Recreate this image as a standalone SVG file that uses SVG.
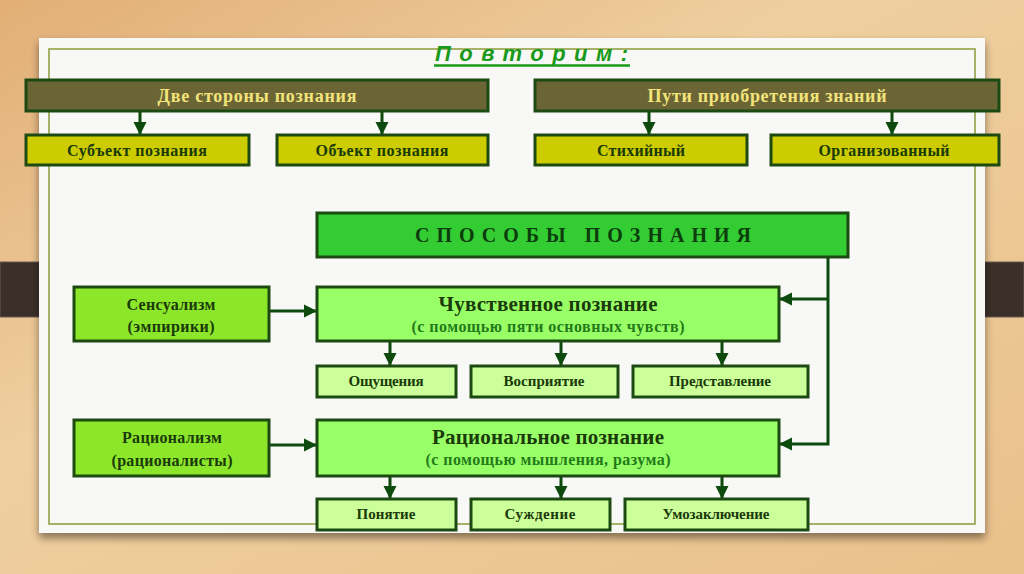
<svg xmlns="http://www.w3.org/2000/svg" width="1024" height="574" viewBox="0 0 1024 574">
<defs>
<linearGradient id="wood" x1="0" y1="0" x2="1" y2="1">
<stop offset="0" stop-color="#e2ae76"/>
<stop offset="0.4" stop-color="#efcf9f"/>
<stop offset="1" stop-color="#e9c08a"/>
</linearGradient>
<filter id="sh" x="-5%" y="-5%" width="110%" height="115%">
<feGaussianBlur in="SourceAlpha" stdDeviation="4"/>
<feOffset dx="0" dy="5"/>
<feComponentTransfer><feFuncA type="linear" slope="0.45"/></feComponentTransfer>
<feMerge><feMergeNode/><feMergeNode in="SourceGraphic"/></feMerge>
</filter>
<marker id="ah" viewBox="0 0 10 10" refX="10" refY="5" markerWidth="13" markerHeight="14" markerUnits="userSpaceOnUse" orient="auto">
<path d="M0,0 L10,5 L0,10 z" fill="#0d4a0d"/>
</marker>
<style>
.box{stroke:#1d4a12;stroke-width:3}
.dark{fill:#6b6536}
.yel{fill:#cccc00}
.main{fill:#33cc33}
.big{fill:#99ff66}
.lime{fill:#8ce62a}
.child{fill:#ccff99}
.t{font-family:"Liberation Serif",serif;font-weight:bold;text-anchor:middle}
.tl{fill:#f2e47a;font-size:18px}
.td{fill:#1a3a0a;font-size:16px}
.tc{fill:#1a3a0a;font-size:15px}
.tg{fill:#237a1a;font-size:16px}
.conn{stroke:#0d4a0d;stroke-width:3;fill:none}
</style>
</defs>
<rect width="1024" height="574" fill="url(#wood)"/>
<rect x="0" y="262" width="61" height="55" fill="#3b2f29" stroke="#6a5a50" stroke-width="1"/>
<rect x="963" y="262" width="61" height="55" fill="#3b2f29" stroke="#6a5a50" stroke-width="1"/>
<rect x="39" y="38" width="946" height="495" fill="#f8f8f6" filter="url(#sh)"/>
<rect x="49" y="49" width="926" height="475" fill="none" stroke="#8a9a3a" stroke-width="1.5"/>
<g id="title">
<text x="435" y="61" font-family="Liberation Sans, sans-serif" font-weight="bold" font-style="italic" font-size="22" fill="#1a9a1a" textLength="193" lengthAdjust="spacing">Повторим:</text>
<line x1="434" y1="65.5" x2="630" y2="65.5" stroke="#1a9a1a" stroke-width="2.5"/>
</g>
<g id="connectors">
<path class="conn" d="M140,111 V135" marker-end="url(#ah)"/>
<path class="conn" d="M382,111 V135" marker-end="url(#ah)"/>
<path class="conn" d="M649,111 V135" marker-end="url(#ah)"/>
<path class="conn" d="M892,111 V135" marker-end="url(#ah)"/>
<path class="conn" d="M828,257 V444 H779" marker-end="url(#ah)"/>
<path class="conn" d="M828,299 H779" marker-end="url(#ah)"/>
<path class="conn" d="M269,311 H317" marker-end="url(#ah)"/>
<path class="conn" d="M269,445 H317" marker-end="url(#ah)"/>
<path class="conn" d="M390,341 V366" marker-end="url(#ah)"/>
<path class="conn" d="M561,341 V366" marker-end="url(#ah)"/>
<path class="conn" d="M722,341 V366" marker-end="url(#ah)"/>
<path class="conn" d="M390,476 V499" marker-end="url(#ah)"/>
<path class="conn" d="M561,476 V499" marker-end="url(#ah)"/>
<path class="conn" d="M722,476 V499" marker-end="url(#ah)"/>
</g>
<g id="two-sides">
<rect class="box dark" x="26" y="80" width="462" height="31"/>
<text class="t tl" x="257" y="102" textLength="199" lengthAdjust="spacing">Две стороны познания</text>
</g>
<g id="ways">
<rect class="box dark" x="535" y="80" width="464" height="31"/>
<text class="t tl" x="767" y="102" textLength="239" lengthAdjust="spacing">Пути приобретения знаний</text>
</g>
<g id="subject">
<rect class="box yel" x="26" y="135" width="223" height="30"/>
<text class="t td" x="137" y="156" textLength="140" lengthAdjust="spacing">Субъект познания</text>
</g>
<g id="object">
<rect class="box yel" x="277" y="135" width="211" height="30"/>
<text class="t td" x="382" y="156" textLength="133" lengthAdjust="spacing">Объект познания</text>
</g>
<g id="spontaneous">
<rect class="box yel" x="535" y="135" width="212" height="30"/>
<text class="t td" x="641" y="156" textLength="88" lengthAdjust="spacing">Стихийный</text>
</g>
<g id="organized">
<rect class="box yel" x="771" y="135" width="228" height="30"/>
<text class="t td" x="884" y="156" textLength="131" lengthAdjust="spacing">Организованный</text>
</g>
<g id="methods">
<rect class="box main" x="317" y="213" width="531" height="44"/>
<text class="t" x="583" y="242" font-size="20" fill="#0d3d0d" textLength="336" lengthAdjust="spacing">СПОСОБЫ ПОЗНАНИЯ</text>
</g>
<g id="sensualism">
<rect class="box lime" x="74" y="287" width="195" height="54"/>
<text class="t td" x="171" y="310" textLength="89" lengthAdjust="spacing">Сенсуализм</text>
<text class="t td" x="171" y="332" textLength="87" lengthAdjust="spacing">(эмпирики)</text>
</g>
<g id="sensory">
<rect class="box big" x="317" y="287" width="462" height="54"/>
<text class="t" x="548" y="311" font-size="21" fill="#1a3a0a" textLength="219" lengthAdjust="spacing">Чувственное познание</text>
<text class="t tg" x="548" y="332" textLength="273" lengthAdjust="spacing">(с помощью пяти основных чувств)</text>
</g>
<g id="sensation">
<rect class="box child" x="317" y="366" width="139" height="31"/>
<text class="t tc" x="386" y="386" textLength="75" lengthAdjust="spacing">Ощущения</text>
</g>
<g id="perception">
<rect class="box child" x="471" y="366" width="147" height="31"/>
<text class="t tc" x="544" y="386" textLength="81" lengthAdjust="spacing">Восприятие</text>
</g>
<g id="representation">
<rect class="box child" x="633" y="366" width="175" height="31"/>
<text class="t tc" x="720" y="386" textLength="102" lengthAdjust="spacing">Представление</text>
</g>
<g id="rationalism">
<rect class="box lime" x="74" y="420" width="195" height="56"/>
<text class="t td" x="172" y="443" textLength="100" lengthAdjust="spacing">Рационализм</text>
<text class="t td" x="172" y="466" textLength="121" lengthAdjust="spacing">(рационалисты)</text>
</g>
<g id="rational">
<rect class="box big" x="317" y="420" width="462" height="56"/>
<text class="t" x="548" y="444" font-size="21" fill="#1a3a0a" textLength="232" lengthAdjust="spacing">Рациональное познание</text>
<text class="t tg" x="548" y="465" textLength="245" lengthAdjust="spacing">(с помощью мышления, разума)</text>
</g>
<g id="concept">
<rect class="box child" x="317" y="499" width="139" height="31"/>
<text class="t tc" x="386" y="519" textLength="59" lengthAdjust="spacing">Понятие</text>
</g>
<g id="judgment">
<rect class="box child" x="471" y="499" width="139" height="31"/>
<text class="t tc" x="540" y="519" textLength="71" lengthAdjust="spacing">Суждение</text>
</g>
<g id="inference">
<rect class="box child" x="625" y="499" width="183" height="31"/>
<text class="t tc" x="716" y="519" textLength="107" lengthAdjust="spacing">Умозаключение</text>
</g>
</svg>
